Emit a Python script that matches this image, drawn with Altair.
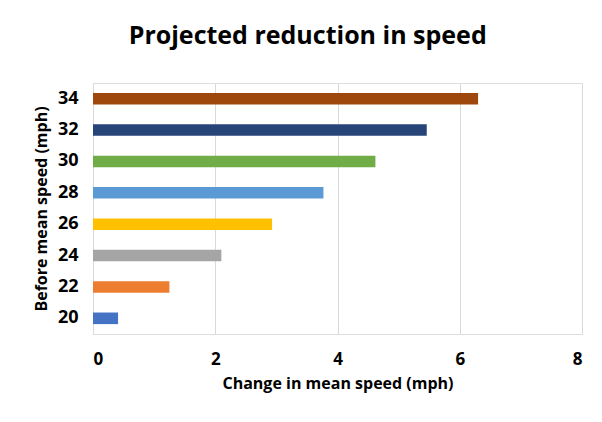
import altair as alt
import pandas as pd

speeds = ["20", "22", "24", "26", "28", "30", "32", "34"]
reductions = [0.41, 1.25, 2.10, 2.93, 3.77, 4.62, 5.46, 6.30]
colors = ["#4472C4", "#ED7D31", "#A5A5A5", "#FFC000", "#5B9BD5", "#70AD47", "#264478", "#9E480E"]
x_ticks = [0, 2, 4, 6, 8]

df = pd.DataFrame({"speed": speeds, "reduction": reductions})

font = "Open Sans"

chart = alt.Chart(df).mark_bar().encode(
    x=alt.X("reduction:Q",
            scale=alt.Scale(domain=[0, 8], nice=False),
            axis=alt.Axis(values=x_ticks, title="Change in mean speed (mph)",
                          grid=True, gridColor="#d9d9d9", domain=False, ticks=False,
                          labelFont=font, labelFontSize=17, labelFontWeight="bold",
                          labelColor="#000000", labelPadding=17,
                          titleFont=font, titleFontSize=16, titleFontWeight="bold",
                          titleColor="#000000", titlePadding=8)),
    y=alt.Y("speed:N", sort=speeds[::-1],
            scale=alt.Scale(paddingInner=0.63, paddingOuter=0.315),
            axis=alt.Axis(title="Before mean speed (mph)", domain=False, ticks=False, grid=False,
                          labelFont=font, labelFontSize=18, labelFontWeight="bold",
                          labelColor="#000000", labelPadding=15,
                          titleFont=font, titleFontSize=16, titleFontWeight="bold",
                          titleColor="#000000", titlePadding=8)),
    color=alt.Color("speed:N", scale=alt.Scale(domain=speeds, range=colors), legend=None),
).properties(
    width=489,
    height=251,
    title=alt.TitleParams("Projected reduction in speed", font=font, fontSize=25,
                          fontWeight="bold", color="#000000", anchor="middle",
                          frame="bounds", offset=34),
    padding={"left": 25, "top": 16, "right": 2, "bottom": 5},
).configure_view(stroke=None).configure(background="#ffffff")

chart.save("out.html", embed_options={"renderer": "svg", "actions": False})
